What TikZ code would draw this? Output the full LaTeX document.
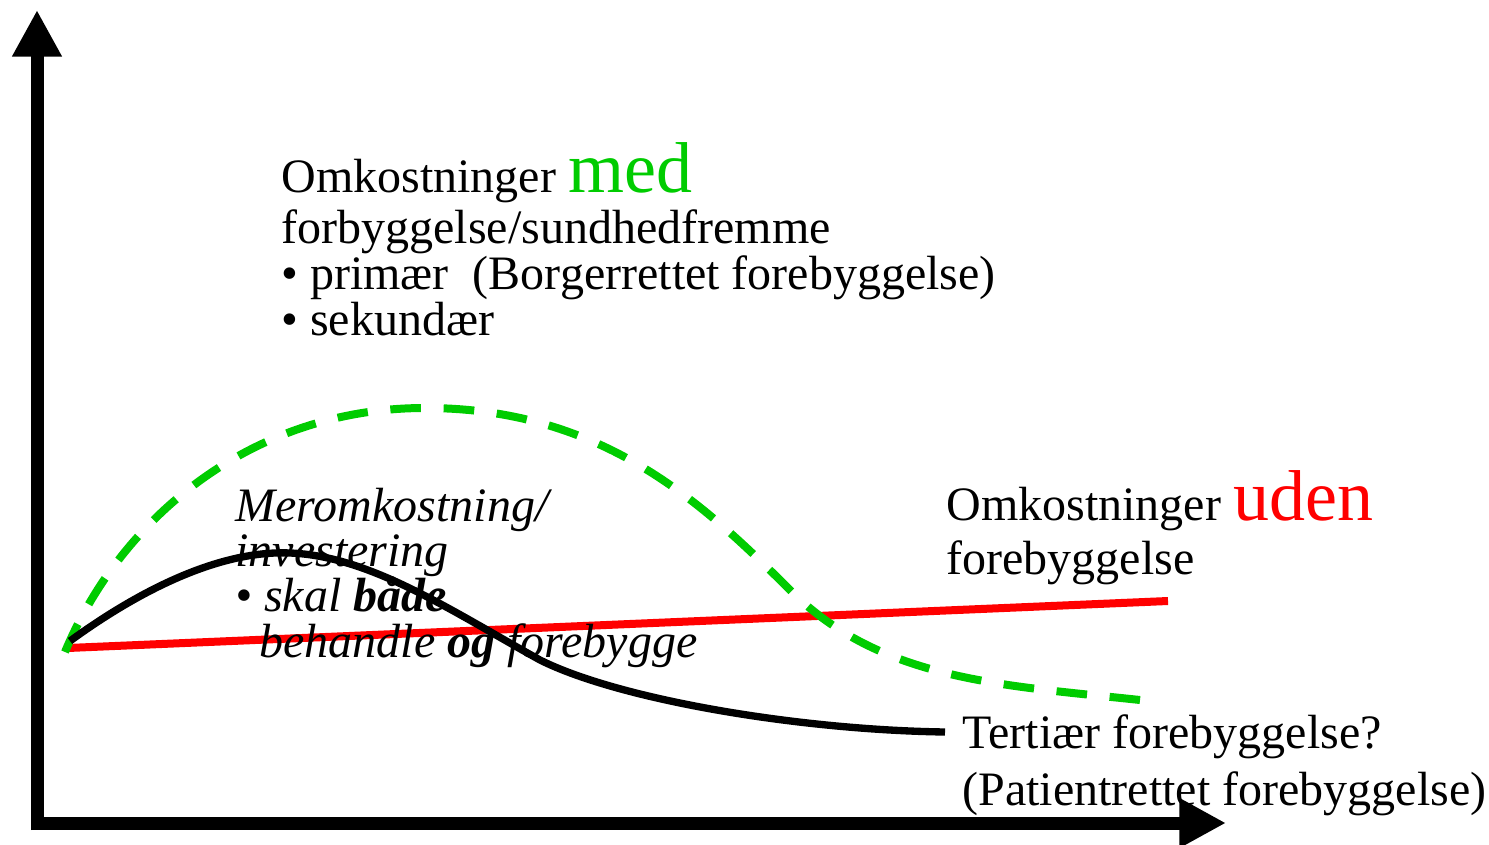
\documentclass[tikz,border=0pt]{standalone}
\usepackage{fontspec}
\setmainfont{Liberation Serif}
\usetikzlibrary{arrows.meta}
\definecolor{medgreen}{RGB}{0,204,0}
\definecolor{udenred}{RGB}{255,0,0}
\tikzset{every picture/.style={line width=0.75pt}}

\begin{document}
\begin{tikzpicture}[x=0.75pt,y=0.75pt,yscale=-1,xscale=1,
  axis/.style={line width=9.75pt,-{Triangle[length=35pt,width=35pt]}},
  lbl/.style={anchor=base west,inner sep=0pt,align=left,font=\fontsize{36}{34.5}\selectfont},
  bigword/.style={font=\fontsize{54}{54}\selectfont}]
\useasboundingbox (0,0) rectangle (1489,845);

%Axes
\coordinate (origin) at (37,823);
\draw [axis] (37,830) -- (37,10) ;
\draw [axis] (31,823) -- (1226,823) ;

%Straight Lines (uden)
\draw [udenred,line width=6pt]   (68,648) -- (1168,601) ;

%Curve Lines (med)
\draw [medgreen,line width=6pt,dash pattern=on 23pt off 17pt]   (65,652) .. controls (120,520) and (250,408) .. (425,408) .. controls (600,408) and (700,500) .. (790,590) .. controls (880,680) and (1000,685) .. (1140,700) ;

%Curve Lines (tertiaer)
\draw [line width=5.5pt]   (70,641) .. controls (140,590) and (220,550) .. (290,553) .. controls (370,556) and (450,610) .. (540,660) .. controls (620,700) and (800,730) .. (945,732) ;

% Text Node (base = last line)
\node (medtxt) [lbl] at (281,335) {Omkostninger {\color{medgreen}\fontsize{54}{54}\selectfont med}\\[3.75pt]forbyggelse/sundhedfremme\\• primær\ \ (Borgerrettet forebyggelse)\\• sekundær};
% Text Node
\node (merotxt) [lbl,font=\fontsize{36}{34}\selectfont\itshape] at (235,657) {Meromkostning/\\investering\\• skal \textbf{både}\\\hspace*{18pt}behandle \textbf{og} forebygge};
% Text Node
\node (udentxt) [lbl] at (946,574) {Omkostninger {\color{udenred}\fontsize{54}{54}\selectfont uden}\\[6pt]forebyggelse};
% Text Node
\node (tertxt) [lbl] at (962,805) {Tertiær forebyggelse?\\[8.25pt](Patientrettet forebyggelse)};

\end{tikzpicture}
\end{document}
